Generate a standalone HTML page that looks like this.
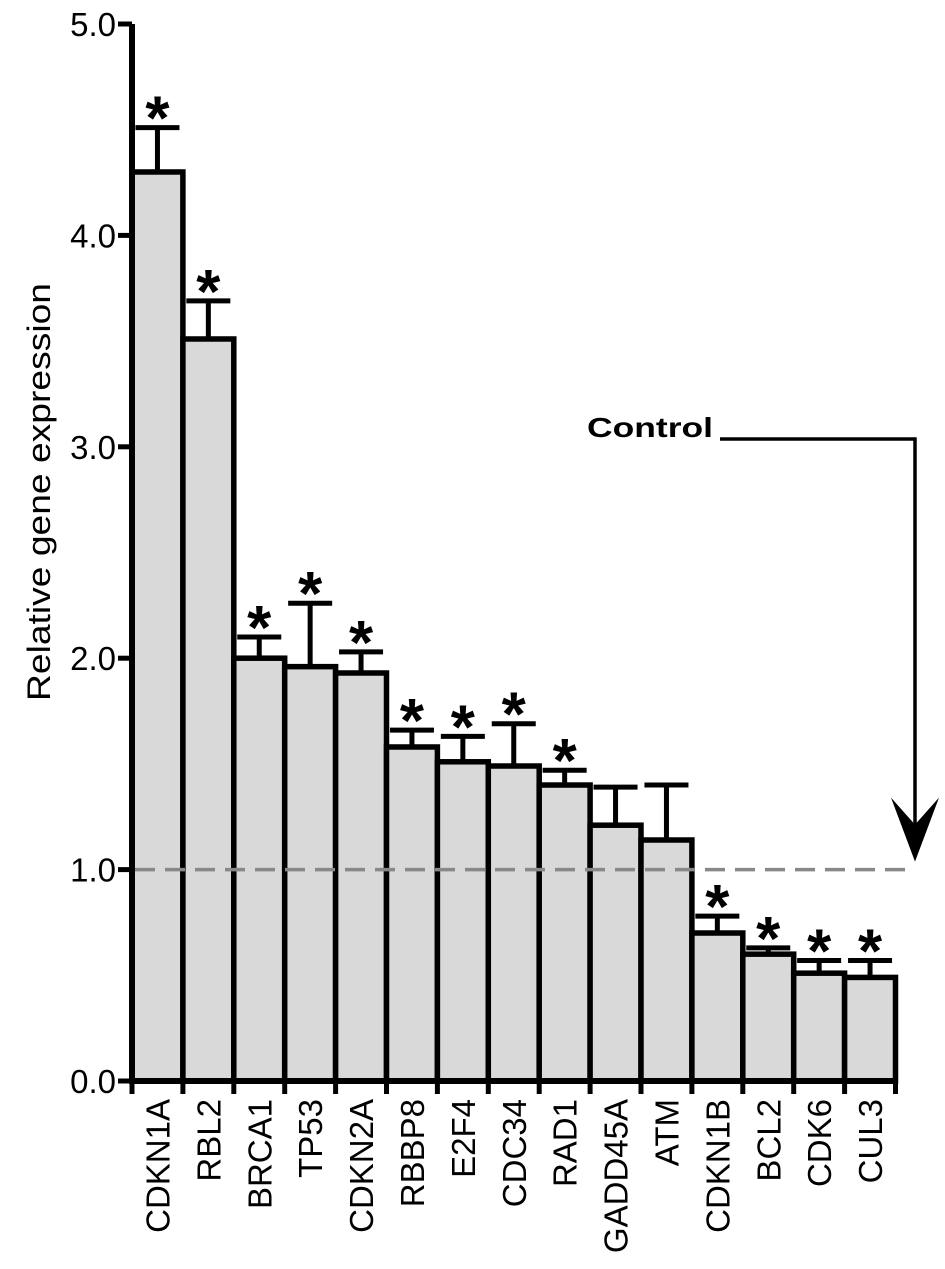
<!DOCTYPE html>
<html><head><meta charset="utf-8"><style>
body{margin:0;background:#fff}
svg{display:block;font-family:"Liberation Sans",Arial,sans-serif}
</style></head><body>
<svg id="chart" width="945" height="1269" viewBox="0 0 945 1269">
<g id="plot"></g>
</svg>
<script>
const categories=["CDKN1A","RBL2","BRCA1","TP53","CDKN2A","RBBP8","E2F4","CDC34","RAD1","GADD45A","ATM","CDKN1B","BCL2","CDK6","CUL3"];
const values=[4.30,3.51,2.00,1.96,1.93,1.58,1.51,1.49,1.40,1.21,1.14,0.70,0.60,0.51,0.49];
const errors=[0.21,0.18,0.10,0.30,0.10,0.08,0.12,0.20,0.07,0.18,0.26,0.08,0.03,0.06,0.08];
const significant=[1,1,1,1,1,1,1,1,1,0,0,1,1,1,1];
const yTicks=[0,1,2,3,4,5];
const controlLevel=1.0;
const NS="http://www.w3.org/2000/svg";
const g=document.getElementById('plot');
const x0=132,bw=50.9,y0=1081,unit=211.4;
const yS=v=>y0-v*unit;
const xS=i=>x0+i*bw;
function mk(t,a,p){const e=document.createElementNS(NS,t);for(const k in a)e.setAttribute(k,a[k]);(p||g).appendChild(e);return e;}
categories.forEach((c,i)=>{
  const b=mk('rect',{x:xS(i),y:yS(values[i]),width:bw,height:y0-yS(values[i]),fill:'#d9d9d9',stroke:'#000','stroke-width':5.5});
  
  
  const cx=xS(i)+bw/2, top=yS(values[i]+errors[i]);
  const e=mk('path',{d:`M${cx},${yS(values[i])}V${top}M${cx-22},${top}H${cx+22}`,stroke:'#000','stroke-width':5,fill:'none'});
  
  
  if(significant[i]){
    const s=mk('text',{x:cx,y:top+12,'text-anchor':'middle','font-size':62,'font-weight':'bold'});
    s.textContent='*';
    
    
  }
  const lx=cx+12, ly=y0+18;
  const l=mk('text',{x:lx,y:ly,'text-anchor':'end','font-size':33,transform:`rotate(-90 ${lx} ${ly})`});
  l.textContent=c;
  
  
});
for(let i=0;i<=categories.length;i++){
  const t=mk('line',{x1:xS(i),x2:xS(i),y1:y0,y2:y0+13,stroke:'#000','stroke-width':5});
  
  
}
const ax=mk('path',{d:`M${x0},${yS(5)}V${y0}H${xS(categories.length)}`,stroke:'#000','stroke-width':6,fill:'none'});


yTicks.forEach(v=>{
  const t=mk('line',{x1:x0-14,x2:x0,y1:yS(v),y2:yS(v),stroke:'#000','stroke-width':5});
  
  
  const l=mk('text',{x:x0-16,y:yS(v)+12,'text-anchor':'end','font-size':33});
  l.textContent=v.toFixed(1);
  
  
});
const d=mk('line',{x1:x0+3,x2:915,y1:yS(controlLevel),y2:yS(controlLevel),stroke:'#888','stroke-width':3.5,'stroke-dasharray':'20 10'});


const ct=mk('text',{x:587,y:437,'font-size':28,'font-weight':'bold',textLength:126,lengthAdjust:'spacingAndGlyphs'});
ct.textContent='Control';


const ar=mk('path',{d:`M720,439H915V${yS(controlLevel)-20}`,stroke:'#000','stroke-width':3.5,fill:'none'});


const ah=mk('path',{d:`M915,${yS(controlLevel)-8}L891,${yS(controlLevel)-72}L915,${yS(controlLevel)-45}L939,${yS(controlLevel)-72}Z`,fill:'#000'});


const yt=mk('text',{x:0,y:0,'text-anchor':'middle','font-size':32,textLength:418,lengthAdjust:'spacingAndGlyphs',transform:'translate(50,492) rotate(-90)'});
yt.textContent='Relative gene expression';


</script>
</body></html>
